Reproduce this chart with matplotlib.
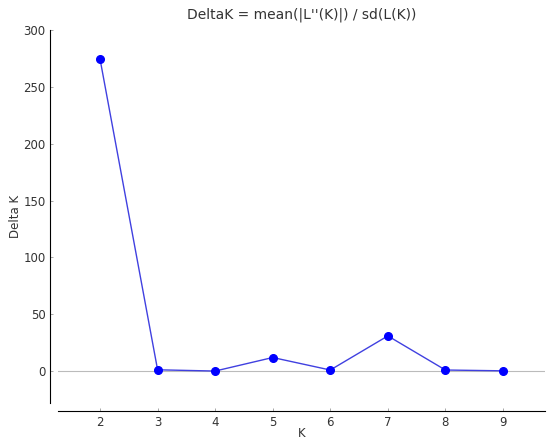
import matplotlib
matplotlib.use('Agg')
import matplotlib.pyplot as plt

K = [2, 3, 4, 5, 6, 7, 8, 9]
delta_k = [274.5, 1.2, 0.1, 12.0, 1.0, 31.0, 1.0, 0.3]
y_ticks = [0, 50, 100, 150, 200, 250, 300]

fig = plt.figure(figsize=(5.49, 4.38), dpi=100)
ax = fig.add_axes([58 / 549, 1 - 403 / 438, 487 / 549, 373 / 438])

ax.axhline(0, color='#bbbbbb', linewidth=0.8, zorder=1)
ax.plot(K, delta_k, color='#4040e0', linewidth=1.0, zorder=2)
ax.plot(K, delta_k, 'o', color='#0000ff', markersize=5.5, zorder=3)

ax.set_xlim(1.27, 9.73)
ax.set_ylim(-28, 300)
ax.set_xticks(K)
ax.set_yticks(y_ticks)

# despine look: only left and bottom, pushed out a little
for side in ['top', 'right']:
    ax.spines[side].set_visible(False)
ax.spines['left'].set_position(('outward', 6))
ax.spines['bottom'].set_position(('outward', 6))
ax.tick_params(direction='in', length=2.5, width=0.6, colors='#333333', labelsize=8.5, pad=3)
ax.tick_params(axis='x', color='#999999')
ax.tick_params(axis='y', color='#999999')

ax.set_xlabel('K', fontsize=8.5, color='#333333', labelpad=-1)
ax.set_ylabel('Delta K', fontsize=8.5, color='#333333', labelpad=1)
ax.set_title("DeltaK = mean(|L''(K)|) / sd(L(K))", fontsize=10, color='#333333', pad=8)

plt.savefig('out.png', dpi=100)
